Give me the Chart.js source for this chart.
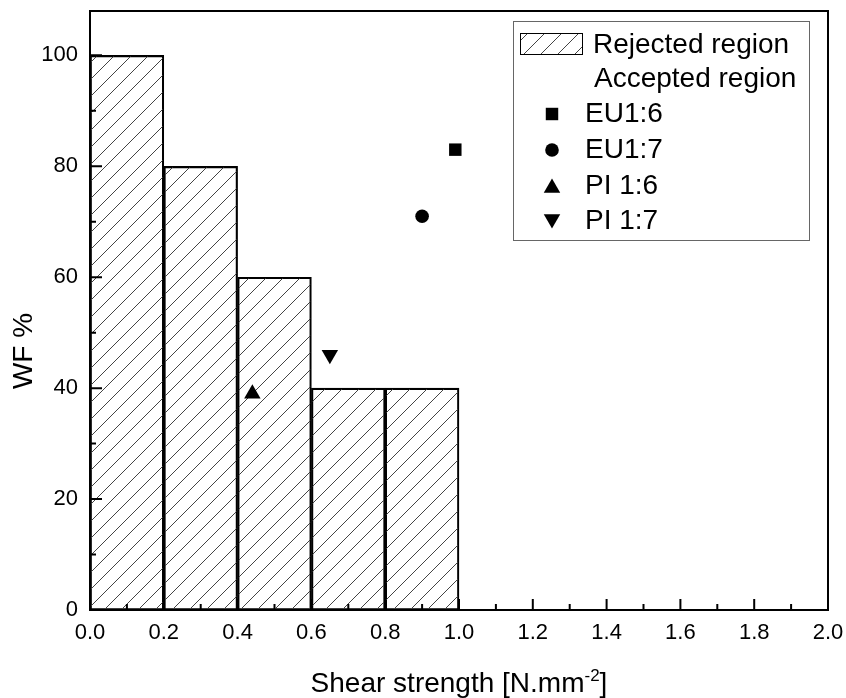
<!DOCTYPE html>
<html><head><meta charset="utf-8">
<script src="https://cdn.jsdelivr.net/npm/chart.js@4.4.0/dist/chart.umd.min.js"></script>
<style>html,body{margin:0;padding:0;background:#fff}canvas{display:block}</style>
</head><body>
<canvas id="c" width="846" height="698"></canvas>
<script>
// ---- data ----
const binCenters = [0.1, 0.3, 0.5, 0.7, 0.9];
const rejectedWF = [100, 80, 60, 40, 40];
const sampleNames = ['EU1:6', 'EU1:7', 'PI 1:6', 'PI 1:7'];
const sampleShear = [0.99, 0.90, 0.44, 0.65];
const sampleWF = [83, 71, 39, 46];
const xTickValues = [0, 0.2, 0.4, 0.6, 0.8, 1.0, 1.2, 1.4, 1.6, 1.8, 2.0];
const xMinorValues = [0.1, 0.3, 0.5, 0.7, 0.9, 1.1, 1.3, 1.5, 1.7, 1.9];
const yTickValues = [0, 20, 40, 60, 80, 100];
const yMinorValues = [10, 30, 50, 70, 90];
const legendRejected = 'Rejected region';
const legendAccepted = 'Accepted region';
const xTitle = ['Shear strength [N.mm', '-2', ']'];
const yTitle = 'WF %';

// ---- styles ----
const FONT = "'Liberation Sans', Arial, sans-serif";
const markerStyles = ['rect', 'circle', 'triangle', 'triangle'];
const markerRot = [0, 0, 0, 180];
const markerRadius = [8.8, 6.8, 9.5, 9.5];

function hatch() {
  const s = 17;
  const c = document.createElement('canvas');
  c.width = s; c.height = s;
  const g = c.getContext('2d');
  g.strokeStyle = '#444';
  g.lineWidth = 1;
  g.beginPath();
  g.moveTo(0, s); g.lineTo(s, 0);
  g.moveTo(-2, 2); g.lineTo(2, -2);
  g.moveTo(s - 2, s + 2); g.lineTo(s + 2, s - 2);
  g.stroke();
  return c;
}
const ctx0 = document.getElementById('c').getContext('2d');
const hatchPattern = ctx0.createPattern(hatch(), 'repeat');

Chart.defaults.font.family = FONT;
Chart.defaults.color = '#000';

const decor = {
  id: 'decor',
  afterDatasetsDraw(chart) {
    const ctx = chart.ctx, ca = chart.chartArea;
    const xs = chart.scales.x, ys = chart.scales.y;
    ctx.save();
    ctx.strokeStyle = '#000';
    ctx.lineWidth = 2;
    ctx.beginPath();
    xTickValues.forEach(v => { const p = xs.getPixelForValue(v); ctx.moveTo(p, ca.bottom); ctx.lineTo(p, ca.bottom - 11); });
    xMinorValues.forEach(v => { const p = xs.getPixelForValue(v); ctx.moveTo(p, ca.bottom); ctx.lineTo(p, ca.bottom - 6); });
    yTickValues.forEach(v => { const p = ys.getPixelForValue(v); ctx.moveTo(ca.left, p); ctx.lineTo(ca.left + 12, p); });
    yMinorValues.forEach(v => { const p = ys.getPixelForValue(v); ctx.moveTo(ca.left, p); ctx.lineTo(ca.left + 6, p); });
    ctx.stroke();
    ctx.strokeRect(ca.left, ca.top, ca.right - ca.left, ca.bottom - ca.top);
    ctx.restore();
  },
  afterDraw(chart) {
    const ctx = chart.ctx, ca = chart.chartArea;
    ctx.save();
    // legend box
    ctx.fillStyle = '#fff';
    ctx.fillRect(513.5, 21.5, 296, 219);
    ctx.strokeStyle = '#666';
    ctx.lineWidth = 1;
    ctx.strokeRect(513.5, 21.5, 296, 219);
    // swatch
    ctx.fillStyle = hatchPattern;
    ctx.fillRect(520.5, 33.5, 62, 21);
    ctx.strokeStyle = '#000';
    ctx.strokeRect(520.5, 33.5, 62, 21);
    ctx.fillStyle = '#000';
    ctx.font = '28px ' + FONT;
    ctx.textBaseline = 'middle';
    ctx.textAlign = 'left';
    ctx.fillText(legendRejected, 593, 45);
    ctx.fillText(legendAccepted, 594, 79);
    const rows = [114, 150, 186, 221];
    sampleNames.forEach((n, i) => {
      Chart.helpers.drawPoint(ctx, {pointStyle: markerStyles[i], rotation: markerRot[i], radius: markerRadius[i], borderWidth: 0}, 552, rows[i] + (markerStyles[i] === 'triangle' ? (markerRot[i] ? -2 : 2) : 0));
      ctx.fillStyle = '#000';
      ctx.fillText(n, 585, rows[i]);
    });
    // x title
    const cx = (ca.left + ca.right) / 2;
    ctx.font = '28px ' + FONT;
    const w1 = ctx.measureText(xTitle[0]).width;
    ctx.font = '17px ' + FONT;
    const w2 = ctx.measureText(xTitle[1]).width;
    ctx.font = '28px ' + FONT;
    const w3 = ctx.measureText(xTitle[2]).width;
    let x = cx - (w1 + w2 + w3) / 2;
    ctx.textBaseline = 'alphabetic';
    ctx.fillText(xTitle[0], x, 692); x += w1;
    ctx.font = '17px ' + FONT;
    ctx.fillText(xTitle[1], x, 681); x += w2;
    ctx.font = '28px ' + FONT;
    ctx.fillText(xTitle[2], x, 692);
    // y title
    ctx.translate(24, 351);
    ctx.rotate(-Math.PI / 2);
    ctx.textAlign = 'center';
    ctx.textBaseline = 'middle';
    ctx.font = '28px ' + FONT;
    ctx.fillText(yTitle, 0, 0);
    ctx.restore();
  }
};

const datasets = [{
  type: 'bar',
  label: legendRejected,
  data: binCenters.map((x, i) => ({x: x, y: rejectedWF[i]})),
  backgroundColor: hatchPattern,
  borderColor: '#000',
  borderWidth: 1.5,
  borderSkipped: false,
  barPercentage: 1,
  categoryPercentage: 1,
  order: 2
}];
sampleNames.forEach((n, i) => {
  datasets.push({
    type: 'scatter',
    label: n,
    data: [{x: sampleShear[i], y: sampleWF[i]}],
    pointStyle: markerStyles[i],
    rotation: markerRot[i],
    pointRadius: markerRadius[i],
    pointBorderWidth: 0,
    backgroundColor: '#000',
    borderColor: '#000',
    order: 1
  });
});

new Chart(document.getElementById('c'), {
  data: {datasets},
  options: {
    responsive: false,
    animation: false,
    layout: {padding: {top: 11, right: 18, left: 0, bottom: 0}},
    plugins: {legend: {display: false}, tooltip: {enabled: false}},
    scales: {
      x: {
        type: 'linear', min: 0, max: 2, offset: false,
        grid: {display: false, drawTicks: false}, border: {display: false},
        afterBuildTicks(s) { s.ticks = xTickValues.map(v => ({value: v})); },
        ticks: {font: {size: 22}, padding: 10, maxRotation: 0, callback: v => Number(v).toFixed(1)},
        afterFit(s) { s.height = 88; s.paddingLeft = 0; s.paddingRight = 0; }
      },
      y: {
        type: 'linear', min: 0, max: 108,
        grid: {display: false, drawTicks: false}, border: {display: false},
        afterBuildTicks(s) { s.ticks = yTickValues.map(v => ({value: v})); },
        ticks: {font: {size: 22}, padding: 12, callback: v => String(v)},
        afterFit(s) { s.width = 90; s.paddingTop = 0; s.paddingBottom = 0; }
      }
    }
  },
  plugins: [decor]
});
</script>
</body></html>
